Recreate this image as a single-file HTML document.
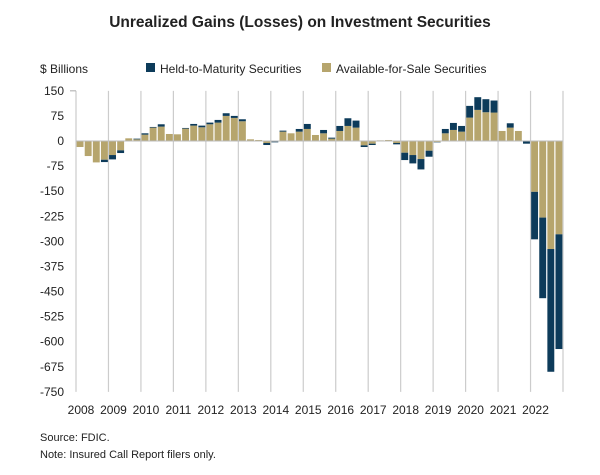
<!DOCTYPE html>
<html><head><meta charset="utf-8"><style>
body{margin:0;background:#fff;font-family:"Liberation Sans",sans-serif;}
svg text{font-family:"Liberation Sans",sans-serif;}
</style></head><body>
<svg id="c" width="600" height="470">
<text x="300" y="27" text-anchor="middle" font-size="15.5" font-weight="bold" fill="#222">Unrealized Gains (Losses) on Investment Securities</text>
<text x="40" y="73" font-size="12" fill="#222">$ Billions</text>
<g>
<rect x="146" y="63" width="9" height="9" fill="#0d3b5a"/>
<text x="160" y="73" font-size="12" fill="#222">Held-to-Maturity Securities</text>
<rect x="322" y="63" width="9" height="9" fill="#b6a56d"/>
<text x="336" y="73" font-size="12" fill="#222">Available-for-Sale Securities</text>
</g>
<g id="plot"></g>
<text x="40" y="441" font-size="11" fill="#222">Source: FDIC.</text>
<text x="40" y="458" font-size="11" fill="#222">Note: Insured Call Report filers only.</text>
</svg>
<script>
const years=[2008,2009,2010,2011,2012,2013,2014,2015,2016,2017,2018,2019,2020,2021,2022];
const yTicks=[150,75,0,-75,-150,-225,-300,-375,-450,-525,-600,-675,-750];
const afs=[-18,-45,-64,-56, -42,-28,8,5, 19,40,43,21, 20,37,46,41, 50,55,75,69, 59,5,3,-6, -2,28,23,28, 36,18,23,7, 30,45,40,-13, -8,2,3,-6, -35,-42,-54,-29, -3,23,33,28, 70,93,86,85, 30,40,30,-1, -152,-229,-323,-279];
const htm=[0,0,0,-7, -13,-8,0,2, 4,2,7,0, 0,2,5,5, 5,8,8,6, 6,0,0,-6, -2,3,0,8, 15,0,10,3, 15,23,21,-5, -4,0,0,-4, -22,-25,-31,-18, -1,13,21,17, 35,38,39,36, 0,13,0,-7, -142,-241,-367,-343];
const ns="http://www.w3.org/2000/svg";
const g=document.getElementById('plot');
const X0=76,X1=563,Y0=141,K=301/900;
const yS=v=>Y0-v*K;
const slot=(X1-X0)/afs.length;
const xS=i=>X0+i*slot;
function mk(t,a){const e=document.createElementNS(ns,t);for(const k in a)e.setAttribute(k,a[k]);g.appendChild(e);return e;}
yTicks.forEach(v=>{
 const t=mk('text',{x:64,y:yS(v)+4,'text-anchor':'end','font-size':12,fill:'#222'});t.textContent=v;
 
 
});
for(let i=0;i<=years.length;i++){
 const x=X0+i*slot*4;
 const l=mk('line',{x1:x,x2:x,y1:yS(150),y2:yS(-750),stroke:'#ccc','stroke-width':1.2});
 
 
 if(i<years.length){
  const t=mk('text',{x:x+5,y:414,'text-anchor':'middle','font-size':12,fill:'#222'});t.textContent=years[i];
  
  
 }
}
const ax=mk('line',{x1:X0-6,x2:X0,y1:yS(150),y2:yS(150),stroke:'#aaa'});


afs.forEach((a,i)=>{
 const h=htm[i];let pos=0,neg=0;
 [[a,'#b6a56d','bar-afs'],[h,'#0d3b5a','bar-htm']].forEach(([v,c,n])=>{
  if(v===0)return;
  let y1,y2;
  if(v>0){y1=pos;y2=pos+v;pos=y2;}else{y1=neg;y2=neg+v;neg=y2;}
  const r=mk('rect',{x:xS(i)+0.6,width:slot-1.2,y:Math.min(yS(y1),yS(y2)),height:Math.abs(yS(y1)-yS(y2)),fill:c});
  
  
 });
});
const z=mk('line',{x1:X0,x2:X1,y1:Y0,y2:Y0,stroke:'#bbb','stroke-width':1});


</script>
</body></html>
